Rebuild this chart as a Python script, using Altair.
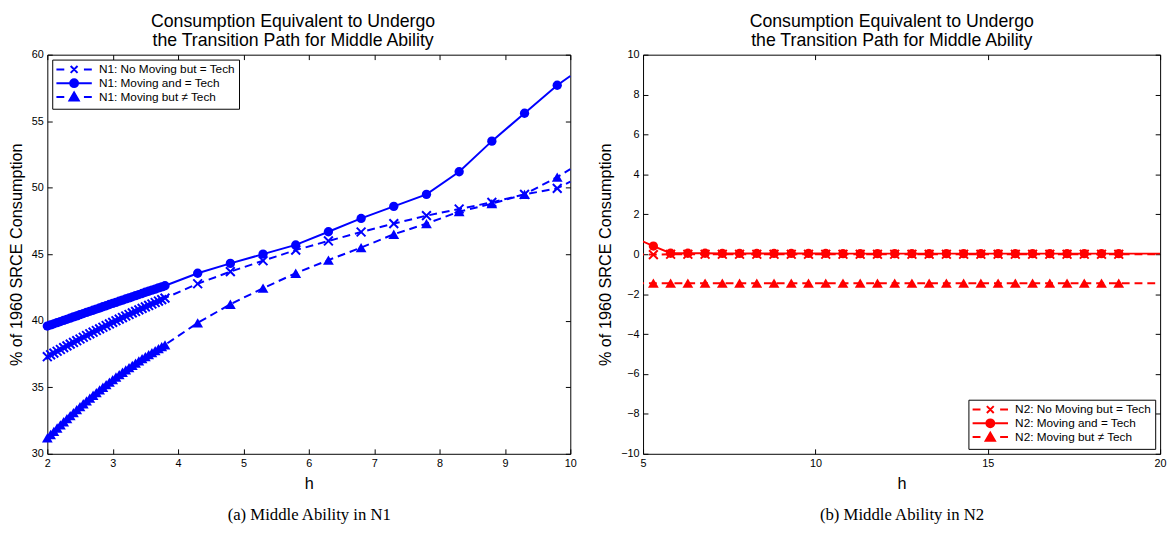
import altair as alt
import pandas as pd

BLUE = "#0000ff"
RED = "#ff0000"
FONT = "Liberation Sans"
SERIF = "Liberation Serif"

TITLE_LINES = ["Consumption Equivalent to Undergo", "the Transition Path for Middle Ability"]
Y_TITLE = "% of 1960 SRCE Consumption"
X_TITLE = "h"
CAPTION_A = "(a) Middle Ability in N1"
CAPTION_B = "(b) Middle Ability in N2"

# ---------------- Panel (a): N1 ----------------
A_X_TICKS = [2, 3, 4, 5, 6, 7, 8, 9, 10]
A_Y_TICKS = [30, 35, 40, 45, 50, 55, 60]
A_LABELS = ["N1: No Moving but = Tech", "N1: Moving and = Tech", "N1: Moving but \u2260 Tech"]

A_H = [2.00, 2.05, 2.10, 2.15, 2.20, 2.25, 2.30, 2.35, 2.40, 2.45, 2.50, 2.55, 2.60,
       2.65, 2.70, 2.75, 2.80, 2.85, 2.90, 2.95, 3.00, 3.05, 3.10, 3.15, 3.20, 3.25,
       3.30, 3.35, 3.40, 3.45, 3.50, 3.55, 3.60, 3.65, 3.70, 3.75, 3.80,
       4.3, 4.8, 5.3, 5.8, 6.3, 6.8, 7.3, 7.8, 8.3, 8.8, 9.3, 9.8,
       10.0]
A_MARK = [True] * 49 + [False]

A_NOMOVE = [37.30, 37.44, 37.57, 37.71, 37.84, 37.98, 38.11, 38.24, 38.37, 38.50, 38.63,
            38.76, 38.89, 39.02, 39.14, 39.27, 39.39, 39.51, 39.64, 39.76, 39.88, 40.00,
            40.12, 40.24, 40.36, 40.47, 40.59, 40.70, 40.82, 40.93, 41.04, 41.15, 41.26,
            41.37, 41.48, 41.59, 41.70,
            42.78, 43.69, 44.51, 45.31, 46.00, 46.67, 47.30, 47.90, 48.40, 48.90, 49.50, 49.95,
            50.45]
A_MOVE_EQ = [39.60, 39.69, 39.77, 39.86, 39.94, 40.03, 40.11, 40.20, 40.29, 40.37, 40.46,
             40.54, 40.63, 40.71, 40.79, 40.88, 40.96, 41.05, 41.13, 41.22, 41.30, 41.38,
             41.47, 41.55, 41.64, 41.72, 41.80, 41.89, 41.97, 42.05, 42.14, 42.22, 42.30,
             42.38, 42.47, 42.55, 42.63,
             43.57, 44.31, 45.01, 45.70, 46.69, 47.69, 48.60, 49.50, 51.20, 53.50, 55.60, 57.70,
             58.40]
A_MOVE_NEQ = [31.20, 31.45, 31.69, 31.94, 32.18, 32.41, 32.64, 32.87, 33.10, 33.32, 33.55,
              33.76, 33.98, 34.19, 34.40, 34.60, 34.80, 35.00, 35.20, 35.39, 35.58, 35.77,
              35.95, 36.13, 36.31, 36.48, 36.65, 36.82, 36.98, 37.15, 37.31, 37.46, 37.61,
              37.76, 37.91, 38.05, 38.19,
              39.84, 41.24, 42.45, 43.57, 44.56, 45.50, 46.50, 47.30, 48.20, 48.80, 49.50, 50.80,
              51.40]

# ---------------- Panel (b): N2 ----------------
B_X_TICKS = [5, 10, 15, 20]
B_Y_TICKS = [-10, -8, -6, -4, -2, 0, 2, 4, 6, 8, 10]
B_LABELS = ["N2: No Moving but = Tech", "N2: Moving and = Tech", "N2: Moving but \u2260 Tech"]

B_H = [4.8, 5.3, 5.8, 6.3, 6.8, 7.3, 7.8, 8.3, 8.8, 9.3, 9.8, 10.3, 10.8, 11.3, 11.8,
       12.3, 12.8, 13.3, 13.8, 14.3, 14.8, 15.3, 15.8, 16.3, 16.8, 17.3, 17.8, 18.3, 18.8,
       20.0]
B_MARK = [False] + [True] * 28 + [False]

B_NOMOVE = [0.00, -0.02, 0.00, 0.00, 0.00, 0.00, 0.00, 0.00, 0.00, 0.00, 0.00, 0.00, 0.00,
            0.00, 0.00, 0.00, 0.00, 0.00, 0.00, 0.00, 0.00, 0.00, 0.00, 0.00, 0.00, 0.00,
            0.00, 0.00, 0.00, 0.00]
B_MOVE_EQ = [0.79, 0.41, 0.05, 0.05, 0.05, 0.04, 0.04, 0.04, 0.04, 0.04, 0.04, 0.04, 0.03,
             0.03, 0.03, 0.03, 0.03, 0.03, 0.03, 0.03, 0.03, 0.03, 0.03, 0.03, 0.03, 0.03,
             0.03, 0.03, 0.03, 0.03]
B_MOVE_NEQ = [-1.45, -1.45, -1.45, -1.45, -1.45, -1.45, -1.45, -1.45, -1.45, -1.45, -1.45,
              -1.45, -1.45, -1.45, -1.45, -1.45, -1.45, -1.45, -1.45, -1.45, -1.45, -1.45,
              -1.45, -1.45, -1.45, -1.45, -1.45, -1.45, -1.45, -1.45]

# marker / legend symbol paths
X_PATH = "M-1,-1L1,1M-1,1L1,-1"
LEG_PATHS = [
    "M-1.15,0H0.45M4.45,0H6.05M1.75,-0.7L3.15,0.7M1.75,0.7L3.15,-0.7",
    "M-1.15,0H6.05M3.25,0A0.8,0.8,0,1,1,1.65,0A0.8,0.8,0,1,1,3.25,0Z",
    "M-1.15,0H0.45M4.45,0H6.05M2.45,-0.9L3.4,0.75L1.5,0.75Z",
]
DASH = [8, 5]
PLOT_H = 406


def make_df(h, marks, series_vals, labels):
    rows = []
    for lab, vals in zip(labels, series_vals):
        for hh, mm, vv in zip(h, marks, vals):
            rows.append({"h": hh, "v": vv, "series": lab, "marker": mm})
    return pd.DataFrame(rows)


def panel(df, labels, xdom, ydom, xticks, yticks, W, H, color, legend_orient,
          caption, clip, title_dx):
    xs = alt.Scale(domain=xdom, nice=False, zero=False)
    ys = alt.Scale(domain=ydom, nice=False, zero=False)
    x_axes = [
        alt.Axis(orient="bottom", values=xticks, title=X_TITLE, ticks=False, tickSize=0,
                 domain=False, grid=False, labelFlush=False, labelPadding=4, titlePadding=7),
        alt.Axis(orient="top", offset=-H, values=xticks, labels=False, title=None,
                 tickSize=5, domain=False, grid=False),
        alt.Axis(orient="bottom", offset=-H, values=xticks, labels=False, title=None,
                 tickSize=5, domain=False, grid=False),
        alt.Axis(orient="bottom", title=caption, labels=False, ticks=False, domain=False,
                 grid=False, titlePadding=54, titleFont=SERIF, titleFontSize=17,
                 titleFontWeight="normal"),
    ]
    y_axes = [
        alt.Axis(orient="left", values=yticks, title=Y_TITLE, ticks=False, tickSize=0,
                 domain=False, grid=False, labelPadding=4, titlePadding=7),
        alt.Axis(orient="right", offset=-W, values=yticks, labels=False, title=None,
                 tickSize=5, domain=False, grid=False),
        alt.Axis(orient="left", offset=-W, values=yticks, labels=False, title=None,
                 tickSize=5, domain=False, grid=False),
        None,
    ]
    base = alt.Chart(df)
    layers = []
    specs = []
    for i, lab in enumerate(labels):
        specs.append(("line", i, lab))
    for i, lab in enumerate(labels):
        specs.append(("point", i, lab))
    for k, (kind, i, lab) in enumerate(specs):
        ax = x_axes[k] if k < len(x_axes) else None
        ay = y_axes[k] if k < len(y_axes) else None
        enc = dict(x=alt.X("h:Q", scale=xs, axis=ax), y=alt.Y("v:Q", scale=ys, axis=ay))
        if kind == "line":
            kw = dict(color=color, strokeWidth=2, clip=clip)
            if i != 1:
                kw["strokeDash"] = DASH
            layer = base.transform_filter(alt.datum.series == lab).mark_line(**kw).encode(**enc)
        else:
            flt = (alt.datum.series == lab) & alt.datum.marker
            if i == 0:
                m = base.transform_filter(flt).mark_point(
                    shape=X_PATH, filled=False, stroke=color, strokeWidth=2, size=80,
                    opacity=1, clip=clip)
            elif i == 1:
                m = base.transform_filter(flt).mark_point(
                    shape="circle", filled=True, color=color, size=90, opacity=1, clip=clip)
            else:
                m = base.transform_filter(flt).mark_point(
                    shape="triangle-up", filled=True, color=color, size=120, opacity=1,
                    clip=clip)
            layer = m.encode(**enc)
        layers.append(layer)

    legend_layer = base.transform_filter("false").mark_point(
        filled=True, fill=color, stroke=color, strokeWidth=2, opacity=1
    ).encode(
        x=alt.X("h:Q", scale=xs, axis=None),
        y=alt.Y("v:Q", scale=ys, axis=None),
        shape=alt.Shape("series:N", scale=alt.Scale(domain=labels, range=LEG_PATHS),
                        legend=alt.Legend(title=None, orient=legend_orient, offset=5,
                                          padding=4, strokeColor="black", fillColor="white",
                                          symbolSize=100, symbolStrokeWidth=2,
                                          symbolOpacity=1, labelFont=FONT,
                                          labelFontSize=12, labelColor="black",
                                          labelOffset=31.5, rowPadding=-3.5)),
    )
    layers.append(legend_layer)

    return alt.layer(*layers).resolve_axis(x="independent", y="independent").properties(
        width=W, height=H,
        title=alt.TitleParams(TITLE_LINES, font=FONT, fontSize=18, fontWeight="normal",
                              color="black", anchor="middle", frame="group",
                              lineHeight=19.5, offset=-1, dx=title_dx),
    )


df_a = make_df(A_H, A_MARK, [A_NOMOVE, A_MOVE_EQ, A_MOVE_NEQ], A_LABELS)
df_b = make_df(B_H, B_MARK, [B_NOMOVE, B_MOVE_EQ, B_MOVE_NEQ], B_LABELS)

pa = panel(df_a, A_LABELS, [2, 10], [30, 60], A_X_TICKS, A_Y_TICKS, 532, PLOT_H, BLUE,
           "top-left", CAPTION_A, False, -16)
pb = panel(df_b, B_LABELS, [5, 20], [-10, 10], B_X_TICKS, B_Y_TICKS, 526, PLOT_H, RED,
           "bottom-right", CAPTION_B, True, -10)

chart = alt.hconcat(pa, pb, spacing=20).resolve_scale(shape="independent").properties(
    padding=0
).configure(padding=0).configure_view(
    stroke="black", strokeWidth=1
).configure_axis(
    labelFont=FONT, labelFontSize=11, labelColor="black", titleFont=FONT,
    titleFontSize=16.5, titleFontWeight="normal", titleColor="black", tickColor="black",
    tickWidth=1
).configure_title(font=FONT)

chart.save("out.html", embed_options={"renderer": "svg", "actions": False})
